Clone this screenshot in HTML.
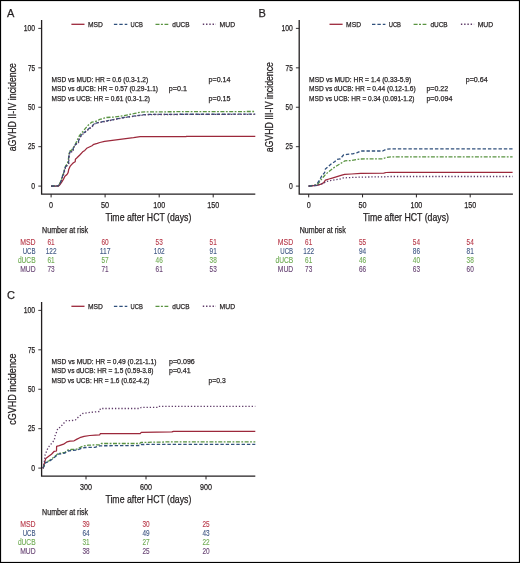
<!DOCTYPE html>
<html><head><meta charset="utf-8"><title>Figure</title>
<style>
html,body{margin:0;padding:0;background:#fff;}
body{width:520px;height:563px;overflow:hidden;}
svg{display:block;will-change:transform;filter:blur(0.3px);}
text{font-family:"Liberation Sans",sans-serif;}
</style></head>
<body>
<svg width="520" height="563" viewBox="0 0 520 563" font-family="Liberation Sans, sans-serif">
<rect x="0" y="0" width="520" height="563" fill="#fff"/>
<text x="7.00" y="17.00" font-size="11" fill="#231f20" stroke="#231f20" stroke-width="0.25">A</text>
<path d="M41.60 20.10 V194.10 H255.30" fill="none" stroke="#231f20" stroke-width="1.3"/>
<line x1="38.30" y1="186.10" x2="41.60" y2="186.10" stroke="#231f20" stroke-width="0.9"/>
<text x="35.10" y="188.90" font-size="8.5" fill="#231f20" stroke="#231f20" stroke-width="0.25" text-anchor="end" textLength="3.8" lengthAdjust="spacingAndGlyphs">0</text>
<line x1="38.30" y1="146.68" x2="41.60" y2="146.68" stroke="#231f20" stroke-width="0.9"/>
<text x="35.10" y="149.48" font-size="8.5" fill="#231f20" stroke="#231f20" stroke-width="0.25" text-anchor="end" textLength="7.1" lengthAdjust="spacingAndGlyphs">25</text>
<line x1="38.30" y1="107.25" x2="41.60" y2="107.25" stroke="#231f20" stroke-width="0.9"/>
<text x="35.10" y="110.05" font-size="8.5" fill="#231f20" stroke="#231f20" stroke-width="0.25" text-anchor="end" textLength="7.1" lengthAdjust="spacingAndGlyphs">50</text>
<line x1="38.30" y1="67.83" x2="41.60" y2="67.83" stroke="#231f20" stroke-width="0.9"/>
<text x="35.10" y="70.62" font-size="8.5" fill="#231f20" stroke="#231f20" stroke-width="0.25" text-anchor="end" textLength="7.1" lengthAdjust="spacingAndGlyphs">75</text>
<line x1="38.30" y1="28.40" x2="41.60" y2="28.40" stroke="#231f20" stroke-width="0.9"/>
<text x="35.10" y="31.20" font-size="8.5" fill="#231f20" stroke="#231f20" stroke-width="0.25" text-anchor="end" textLength="11.3" lengthAdjust="spacingAndGlyphs">100</text>
<line x1="51.10" y1="194.10" x2="51.10" y2="197.40" stroke="#231f20" stroke-width="1.0"/>
<text x="51.10" y="207.60" font-size="9.0" fill="#231f20" stroke="#231f20" stroke-width="0.25" text-anchor="middle" textLength="4.0" lengthAdjust="spacingAndGlyphs">0</text>
<line x1="105.10" y1="194.10" x2="105.10" y2="197.40" stroke="#231f20" stroke-width="1.0"/>
<text x="105.10" y="207.60" font-size="9.0" fill="#231f20" stroke="#231f20" stroke-width="0.25" text-anchor="middle" textLength="8.1" lengthAdjust="spacingAndGlyphs">50</text>
<line x1="159.20" y1="194.10" x2="159.20" y2="197.40" stroke="#231f20" stroke-width="1.0"/>
<text x="159.20" y="207.60" font-size="9.0" fill="#231f20" stroke="#231f20" stroke-width="0.25" text-anchor="middle" textLength="11.9" lengthAdjust="spacingAndGlyphs">100</text>
<line x1="213.20" y1="194.10" x2="213.20" y2="197.40" stroke="#231f20" stroke-width="1.0"/>
<text x="213.20" y="207.60" font-size="9.0" fill="#231f20" stroke="#231f20" stroke-width="0.25" text-anchor="middle" textLength="11.9" lengthAdjust="spacingAndGlyphs">150</text>
<text x="105.40" y="221.00" font-size="10.2" fill="#231f20" stroke="#231f20" stroke-width="0.25" textLength="86.0" lengthAdjust="spacingAndGlyphs">Time after HCT (days)</text>
<text transform="translate(15.60,107.20) rotate(-90)" font-size="10.3" fill="#231f20" stroke="#231f20" stroke-width="0.25" text-anchor="middle" textLength="88.3" lengthAdjust="spacingAndGlyphs">aGVHD II-IV incidence</text>
<line x1="71.40" y1="24.30" x2="84.50" y2="24.30" stroke="#9c283b" stroke-width="1.3"/>
<text x="88.00" y="26.80" font-size="7.9" fill="#231f20" stroke="#231f20" stroke-width="0.25" textLength="14.9" lengthAdjust="spacingAndGlyphs">MSD</text>
<line x1="113.90" y1="24.30" x2="127.30" y2="24.30" stroke="#30507c" stroke-width="1.3" stroke-dasharray="3.4 2"/>
<text x="130.60" y="26.80" font-size="7.9" fill="#231f20" stroke="#231f20" stroke-width="0.25" textLength="12.3" lengthAdjust="spacingAndGlyphs">UCB</text>
<line x1="155.50" y1="24.30" x2="168.30" y2="24.30" stroke="#5a9442" stroke-width="1.3" stroke-dasharray="4 1.4 2 1.6"/>
<text x="172.30" y="26.80" font-size="7.9" fill="#231f20" stroke="#231f20" stroke-width="0.25" textLength="17.3" lengthAdjust="spacingAndGlyphs">dUCB</text>
<line x1="202.80" y1="24.30" x2="216.00" y2="24.30" stroke="#5e3a68" stroke-width="1.4" stroke-dasharray="1.4 1.85"/>
<text x="219.60" y="26.80" font-size="7.9" fill="#231f20" stroke="#231f20" stroke-width="0.25" textLength="15.5" lengthAdjust="spacingAndGlyphs">MUD</text>
<text x="51.50" y="82.30" font-size="7.9" fill="#231f20" stroke="#231f20" stroke-width="0.25" textLength="96.7" lengthAdjust="spacingAndGlyphs">MSD vs MUD: HR = 0.6 (0.3-1.2)</text>
<text x="51.50" y="91.40" font-size="7.9" fill="#231f20" stroke="#231f20" stroke-width="0.25" textLength="106.5" lengthAdjust="spacingAndGlyphs">MSD vs dUCB: HR = 0.57 (0.29-1.1)</text>
<text x="51.50" y="100.50" font-size="7.9" fill="#231f20" stroke="#231f20" stroke-width="0.25" textLength="98.5" lengthAdjust="spacingAndGlyphs">MSD vs UCB: HR = 0.61 (0.3-1.2)</text>
<text x="208.50" y="82.30" font-size="7.9" fill="#231f20" stroke="#231f20" stroke-width="0.25" textLength="22" lengthAdjust="spacingAndGlyphs">p=0.14</text>
<text x="168.80" y="91.40" font-size="7.9" fill="#231f20" stroke="#231f20" stroke-width="0.25" textLength="18.1" lengthAdjust="spacingAndGlyphs">p=0.1</text>
<text x="208.50" y="100.50" font-size="7.9" fill="#231f20" stroke="#231f20" stroke-width="0.25" textLength="22" lengthAdjust="spacingAndGlyphs">p=0.15</text>
<polyline points="51.00,186.10 58.20,186.10 59.20,185.50 61.40,182.70 63.50,179.10 64.90,176.30 67.00,174.50 68.10,172.70 68.80,169.20 69.90,166.70 71.30,164.90 73.40,162.80 75.20,161.70 75.40,159.20 77.00,157.80 79.80,155.00 82.70,151.80 84.80,150.40 86.70,148.30 92.00,145.70 93.80,144.30 97.30,143.40 99.80,142.50 104.60,141.30 114.20,140.10 123.80,138.80 133.50,137.70 140.20,136.70 145.00,136.50 186.00,136.60 186.50,136.30 255.30,136.30" fill="none" stroke="#9c283b" stroke-width="1.25" stroke-linecap="butt" stroke-linejoin="round"/>
<polyline points="51.00,186.10 57.80,185.90 59.20,184.60 60.70,181.60 61.70,178.60 62.40,176.00 63.50,173.20 64.20,170.80 64.90,168.00 65.60,166.00 67.40,163.80 68.40,159.40 69.30,151.40 71.60,150.10 74.70,145.70 77.30,139.90 79.60,135.40 83.60,130.60 87.60,125.70 92.00,122.10 96.00,121.30 99.80,119.40 106.50,117.50 114.20,117.00 123.80,115.60 133.50,113.70 140.20,112.20 145.00,111.90 180.00,111.70 255.30,111.50" fill="none" stroke="#5a9442" stroke-width="1.3" stroke-dasharray="4 1.5 1.8 1.5" stroke-linecap="butt" stroke-linejoin="round"/>
<polyline points="51.00,186.10 57.80,185.90 59.20,184.80 60.70,182.00 61.70,179.10 62.40,176.60 63.50,173.80 64.20,171.30 64.90,168.50 65.60,166.70 67.40,164.90 68.50,163.50 68.60,160.70 68.80,157.10 69.50,152.80 70.20,151.80 72.90,151.40 73.30,147.90 75.60,144.30 78.20,142.60 79.10,139.00 81.30,135.00 84.00,132.80 86.70,130.60 89.30,128.30 92.00,126.60 93.80,123.90 96.90,122.80 104.60,121.30 114.20,119.40 123.80,117.50 133.50,116.10 141.20,115.10 145.00,114.60 153.80,114.30 255.30,114.20" fill="none" stroke="#30507c" stroke-width="1.3" stroke-dasharray="3.4 1.9" stroke-linecap="butt" stroke-linejoin="round"/>
<polyline points="51.20,186.30 58.00,186.10 59.40,185.00 60.90,182.20 61.90,179.30 62.60,176.80 63.70,174.00 64.40,171.50 65.10,168.70 65.80,166.90 67.60,165.10 68.70,163.70 68.80,160.90 69.00,157.30 69.70,153.00 70.40,152.00 73.10,151.60 73.50,148.10 75.80,144.50 78.40,142.80 79.30,139.20 81.50,135.20 84.20,133.00 86.90,130.80 89.50,128.50 92.20,126.80 94.00,124.10 97.10,123.00 104.80,121.50 114.40,119.60 124.00,117.70 133.70,116.30 141.40,115.30 145.20,114.80 154.00,114.50 255.50,114.40" fill="none" stroke="#5e3a68" stroke-width="1.3" stroke-dasharray="1.3 1.9" stroke-linecap="butt" stroke-linejoin="round"/>
<text x="42.10" y="233.10" font-size="8.5" fill="#231f20" stroke="#231f20" stroke-width="0.25" textLength="46" lengthAdjust="spacingAndGlyphs">Number at risk</text>
<text x="35.60" y="244.60" font-size="8.3" fill="#b83a4a" stroke="#b83a4a" stroke-width="0.12" text-anchor="end" textLength="15.4" lengthAdjust="spacingAndGlyphs">MSD</text>
<text x="51.10" y="244.60" font-size="8.3" fill="#b83a4a" stroke="#b83a4a" stroke-width="0.12" text-anchor="middle" textLength="7.2" lengthAdjust="spacingAndGlyphs">61</text>
<text x="105.10" y="244.60" font-size="8.3" fill="#b83a4a" stroke="#b83a4a" stroke-width="0.12" text-anchor="middle" textLength="7.2" lengthAdjust="spacingAndGlyphs">60</text>
<text x="159.20" y="244.60" font-size="8.3" fill="#b83a4a" stroke="#b83a4a" stroke-width="0.12" text-anchor="middle" textLength="7.2" lengthAdjust="spacingAndGlyphs">53</text>
<text x="213.20" y="244.60" font-size="8.3" fill="#b83a4a" stroke="#b83a4a" stroke-width="0.12" text-anchor="middle" textLength="7.2" lengthAdjust="spacingAndGlyphs">51</text>
<text x="35.60" y="253.60" font-size="8.3" fill="#3f5784" stroke="#3f5784" stroke-width="0.12" text-anchor="end" textLength="12.9" lengthAdjust="spacingAndGlyphs">UCB</text>
<text x="51.10" y="253.60" font-size="8.3" fill="#3f5784" stroke="#3f5784" stroke-width="0.12" text-anchor="middle" textLength="10.8" lengthAdjust="spacingAndGlyphs">122</text>
<text x="105.10" y="253.60" font-size="8.3" fill="#3f5784" stroke="#3f5784" stroke-width="0.12" text-anchor="middle" textLength="10.8" lengthAdjust="spacingAndGlyphs">117</text>
<text x="159.20" y="253.60" font-size="8.3" fill="#3f5784" stroke="#3f5784" stroke-width="0.12" text-anchor="middle" textLength="10.8" lengthAdjust="spacingAndGlyphs">102</text>
<text x="213.20" y="253.60" font-size="8.3" fill="#3f5784" stroke="#3f5784" stroke-width="0.12" text-anchor="middle" textLength="7.2" lengthAdjust="spacingAndGlyphs">91</text>
<text x="35.60" y="262.60" font-size="8.3" fill="#6eab52" stroke="#6eab52" stroke-width="0.12" text-anchor="end" textLength="17.7" lengthAdjust="spacingAndGlyphs">dUCB</text>
<text x="51.10" y="262.60" font-size="8.3" fill="#6eab52" stroke="#6eab52" stroke-width="0.12" text-anchor="middle" textLength="7.2" lengthAdjust="spacingAndGlyphs">61</text>
<text x="105.10" y="262.60" font-size="8.3" fill="#6eab52" stroke="#6eab52" stroke-width="0.12" text-anchor="middle" textLength="7.2" lengthAdjust="spacingAndGlyphs">57</text>
<text x="159.20" y="262.60" font-size="8.3" fill="#6eab52" stroke="#6eab52" stroke-width="0.12" text-anchor="middle" textLength="7.2" lengthAdjust="spacingAndGlyphs">46</text>
<text x="213.20" y="262.60" font-size="8.3" fill="#6eab52" stroke="#6eab52" stroke-width="0.12" text-anchor="middle" textLength="7.2" lengthAdjust="spacingAndGlyphs">38</text>
<text x="35.60" y="271.60" font-size="8.3" fill="#684474" stroke="#684474" stroke-width="0.12" text-anchor="end" textLength="15.4" lengthAdjust="spacingAndGlyphs">MUD</text>
<text x="51.10" y="271.60" font-size="8.3" fill="#684474" stroke="#684474" stroke-width="0.12" text-anchor="middle" textLength="7.2" lengthAdjust="spacingAndGlyphs">73</text>
<text x="105.10" y="271.60" font-size="8.3" fill="#684474" stroke="#684474" stroke-width="0.12" text-anchor="middle" textLength="7.2" lengthAdjust="spacingAndGlyphs">71</text>
<text x="159.20" y="271.60" font-size="8.3" fill="#684474" stroke="#684474" stroke-width="0.12" text-anchor="middle" textLength="7.2" lengthAdjust="spacingAndGlyphs">61</text>
<text x="213.20" y="271.60" font-size="8.3" fill="#684474" stroke="#684474" stroke-width="0.12" text-anchor="middle" textLength="7.2" lengthAdjust="spacingAndGlyphs">53</text>
<text x="258.60" y="17.00" font-size="11" fill="#231f20" stroke="#231f20" stroke-width="0.25">B</text>
<path d="M299.20 20.10 V194.10 H512.90" fill="none" stroke="#231f20" stroke-width="1.3"/>
<line x1="295.90" y1="186.10" x2="299.20" y2="186.10" stroke="#231f20" stroke-width="0.9"/>
<text x="292.70" y="188.90" font-size="8.5" fill="#231f20" stroke="#231f20" stroke-width="0.25" text-anchor="end" textLength="3.8" lengthAdjust="spacingAndGlyphs">0</text>
<line x1="295.90" y1="146.68" x2="299.20" y2="146.68" stroke="#231f20" stroke-width="0.9"/>
<text x="292.70" y="149.48" font-size="8.5" fill="#231f20" stroke="#231f20" stroke-width="0.25" text-anchor="end" textLength="7.1" lengthAdjust="spacingAndGlyphs">25</text>
<line x1="295.90" y1="107.25" x2="299.20" y2="107.25" stroke="#231f20" stroke-width="0.9"/>
<text x="292.70" y="110.05" font-size="8.5" fill="#231f20" stroke="#231f20" stroke-width="0.25" text-anchor="end" textLength="7.1" lengthAdjust="spacingAndGlyphs">50</text>
<line x1="295.90" y1="67.83" x2="299.20" y2="67.83" stroke="#231f20" stroke-width="0.9"/>
<text x="292.70" y="70.62" font-size="8.5" fill="#231f20" stroke="#231f20" stroke-width="0.25" text-anchor="end" textLength="7.1" lengthAdjust="spacingAndGlyphs">75</text>
<line x1="295.90" y1="28.40" x2="299.20" y2="28.40" stroke="#231f20" stroke-width="0.9"/>
<text x="292.70" y="31.20" font-size="8.5" fill="#231f20" stroke="#231f20" stroke-width="0.25" text-anchor="end" textLength="11.3" lengthAdjust="spacingAndGlyphs">100</text>
<line x1="308.70" y1="194.10" x2="308.70" y2="197.40" stroke="#231f20" stroke-width="1.0"/>
<text x="308.70" y="207.60" font-size="9.0" fill="#231f20" stroke="#231f20" stroke-width="0.25" text-anchor="middle" textLength="4.0" lengthAdjust="spacingAndGlyphs">0</text>
<line x1="362.55" y1="194.10" x2="362.55" y2="197.40" stroke="#231f20" stroke-width="1.0"/>
<text x="362.55" y="207.60" font-size="9.0" fill="#231f20" stroke="#231f20" stroke-width="0.25" text-anchor="middle" textLength="8.1" lengthAdjust="spacingAndGlyphs">50</text>
<line x1="416.40" y1="194.10" x2="416.40" y2="197.40" stroke="#231f20" stroke-width="1.0"/>
<text x="416.40" y="207.60" font-size="9.0" fill="#231f20" stroke="#231f20" stroke-width="0.25" text-anchor="middle" textLength="11.9" lengthAdjust="spacingAndGlyphs">100</text>
<line x1="470.20" y1="194.10" x2="470.20" y2="197.40" stroke="#231f20" stroke-width="1.0"/>
<text x="470.20" y="207.60" font-size="9.0" fill="#231f20" stroke="#231f20" stroke-width="0.25" text-anchor="middle" textLength="11.9" lengthAdjust="spacingAndGlyphs">150</text>
<text x="363.00" y="221.00" font-size="10.2" fill="#231f20" stroke="#231f20" stroke-width="0.25" textLength="86.0" lengthAdjust="spacingAndGlyphs">Time after HCT (days)</text>
<text transform="translate(273.20,107.20) rotate(-90)" font-size="10.3" fill="#231f20" stroke="#231f20" stroke-width="0.25" text-anchor="middle" textLength="90.3" lengthAdjust="spacingAndGlyphs">aGVHD III-IV incidence</text>
<line x1="329.50" y1="24.30" x2="342.60" y2="24.30" stroke="#9c283b" stroke-width="1.3"/>
<text x="346.10" y="26.80" font-size="7.9" fill="#231f20" stroke="#231f20" stroke-width="0.25" textLength="14.9" lengthAdjust="spacingAndGlyphs">MSD</text>
<line x1="372.00" y1="24.30" x2="385.40" y2="24.30" stroke="#30507c" stroke-width="1.3" stroke-dasharray="3.4 2"/>
<text x="388.70" y="26.80" font-size="7.9" fill="#231f20" stroke="#231f20" stroke-width="0.25" textLength="12.3" lengthAdjust="spacingAndGlyphs">UCB</text>
<line x1="413.60" y1="24.30" x2="426.40" y2="24.30" stroke="#5a9442" stroke-width="1.3" stroke-dasharray="4 1.4 2 1.6"/>
<text x="430.40" y="26.80" font-size="7.9" fill="#231f20" stroke="#231f20" stroke-width="0.25" textLength="17.3" lengthAdjust="spacingAndGlyphs">dUCB</text>
<line x1="460.90" y1="24.30" x2="474.10" y2="24.30" stroke="#5e3a68" stroke-width="1.4" stroke-dasharray="1.4 1.85"/>
<text x="477.70" y="26.80" font-size="7.9" fill="#231f20" stroke="#231f20" stroke-width="0.25" textLength="15.5" lengthAdjust="spacingAndGlyphs">MUD</text>
<text x="309.10" y="82.30" font-size="7.9" fill="#231f20" stroke="#231f20" stroke-width="0.25" textLength="102.2" lengthAdjust="spacingAndGlyphs">MSD vs MUD: HR = 1.4 (0.33-5.9)</text>
<text x="309.10" y="91.40" font-size="7.9" fill="#231f20" stroke="#231f20" stroke-width="0.25" textLength="106.5" lengthAdjust="spacingAndGlyphs">MSD vs dUCB: HR = 0.44 (0.12-1.6)</text>
<text x="309.10" y="100.50" font-size="7.9" fill="#231f20" stroke="#231f20" stroke-width="0.25" textLength="105.4" lengthAdjust="spacingAndGlyphs">MSD vs UCB: HR = 0.34 (0.091-1.2)</text>
<text x="465.70" y="82.30" font-size="7.9" fill="#231f20" stroke="#231f20" stroke-width="0.25" textLength="22" lengthAdjust="spacingAndGlyphs">p=0.64</text>
<text x="426.40" y="91.40" font-size="7.9" fill="#231f20" stroke="#231f20" stroke-width="0.25" textLength="21.7" lengthAdjust="spacingAndGlyphs">p=0.22</text>
<text x="426.40" y="100.50" font-size="7.9" fill="#231f20" stroke="#231f20" stroke-width="0.25" textLength="26" lengthAdjust="spacingAndGlyphs">p=0.094</text>
<polyline points="308.60,186.20 317.00,185.40 321.00,184.20 323.80,182.60 325.40,180.20 329.00,179.00 333.00,177.80 337.00,176.60 341.00,175.40 344.60,174.40 351.50,174.00 360.80,173.40 383.80,173.20 386.10,172.50 390.80,172.30 512.60,172.30" fill="none" stroke="#9c283b" stroke-width="1.25" stroke-linecap="butt" stroke-linejoin="round"/>
<polyline points="308.60,186.20 317.00,184.60 319.00,182.60 321.00,179.80 323.40,177.00 325.40,174.60 329.00,171.40 332.20,169.00 335.40,166.60 339.40,164.20 343.40,161.80 345.00,160.80 351.50,160.50 359.60,159.00 382.70,158.80 386.10,157.50 390.80,156.90 512.60,156.90" fill="none" stroke="#5a9442" stroke-width="1.3" stroke-dasharray="4 1.5 1.8 1.5" stroke-linecap="butt" stroke-linejoin="round"/>
<polyline points="308.60,186.20 317.00,185.40 317.80,182.60 319.80,179.80 321.80,175.80 324.60,172.60 325.40,169.00 328.20,166.60 331.40,163.80 334.60,161.80 337.00,159.40 340.20,158.80 341.80,157.00 343.50,155.00 346.90,154.40 352.70,153.80 357.30,152.70 360.80,151.00 382.70,151.00 386.10,149.20 390.80,148.90 512.60,148.90" fill="none" stroke="#30507c" stroke-width="1.3" stroke-dasharray="3.4 1.9" stroke-linecap="butt" stroke-linejoin="round"/>
<polyline points="308.60,186.20 319.40,184.60 323.40,183.40 326.60,181.40 330.60,180.60 335.40,179.80 340.20,179.00 343.50,177.90 351.50,177.50 360.80,177.10 383.80,176.80 390.80,176.50 512.60,176.50" fill="none" stroke="#5e3a68" stroke-width="1.3" stroke-dasharray="1.3 1.9" stroke-linecap="butt" stroke-linejoin="round"/>
<text x="299.70" y="233.10" font-size="8.5" fill="#231f20" stroke="#231f20" stroke-width="0.25" textLength="46" lengthAdjust="spacingAndGlyphs">Number at risk</text>
<text x="293.20" y="244.60" font-size="8.3" fill="#b83a4a" stroke="#b83a4a" stroke-width="0.12" text-anchor="end" textLength="15.4" lengthAdjust="spacingAndGlyphs">MSD</text>
<text x="308.70" y="244.60" font-size="8.3" fill="#b83a4a" stroke="#b83a4a" stroke-width="0.12" text-anchor="middle" textLength="7.2" lengthAdjust="spacingAndGlyphs">61</text>
<text x="362.55" y="244.60" font-size="8.3" fill="#b83a4a" stroke="#b83a4a" stroke-width="0.12" text-anchor="middle" textLength="7.2" lengthAdjust="spacingAndGlyphs">55</text>
<text x="416.40" y="244.60" font-size="8.3" fill="#b83a4a" stroke="#b83a4a" stroke-width="0.12" text-anchor="middle" textLength="7.2" lengthAdjust="spacingAndGlyphs">54</text>
<text x="470.20" y="244.60" font-size="8.3" fill="#b83a4a" stroke="#b83a4a" stroke-width="0.12" text-anchor="middle" textLength="7.2" lengthAdjust="spacingAndGlyphs">54</text>
<text x="293.20" y="253.60" font-size="8.3" fill="#3f5784" stroke="#3f5784" stroke-width="0.12" text-anchor="end" textLength="12.9" lengthAdjust="spacingAndGlyphs">UCB</text>
<text x="308.70" y="253.60" font-size="8.3" fill="#3f5784" stroke="#3f5784" stroke-width="0.12" text-anchor="middle" textLength="10.8" lengthAdjust="spacingAndGlyphs">122</text>
<text x="362.55" y="253.60" font-size="8.3" fill="#3f5784" stroke="#3f5784" stroke-width="0.12" text-anchor="middle" textLength="7.2" lengthAdjust="spacingAndGlyphs">94</text>
<text x="416.40" y="253.60" font-size="8.3" fill="#3f5784" stroke="#3f5784" stroke-width="0.12" text-anchor="middle" textLength="7.2" lengthAdjust="spacingAndGlyphs">86</text>
<text x="470.20" y="253.60" font-size="8.3" fill="#3f5784" stroke="#3f5784" stroke-width="0.12" text-anchor="middle" textLength="7.2" lengthAdjust="spacingAndGlyphs">81</text>
<text x="293.20" y="262.60" font-size="8.3" fill="#6eab52" stroke="#6eab52" stroke-width="0.12" text-anchor="end" textLength="17.7" lengthAdjust="spacingAndGlyphs">dUCB</text>
<text x="308.70" y="262.60" font-size="8.3" fill="#6eab52" stroke="#6eab52" stroke-width="0.12" text-anchor="middle" textLength="7.2" lengthAdjust="spacingAndGlyphs">61</text>
<text x="362.55" y="262.60" font-size="8.3" fill="#6eab52" stroke="#6eab52" stroke-width="0.12" text-anchor="middle" textLength="7.2" lengthAdjust="spacingAndGlyphs">46</text>
<text x="416.40" y="262.60" font-size="8.3" fill="#6eab52" stroke="#6eab52" stroke-width="0.12" text-anchor="middle" textLength="7.2" lengthAdjust="spacingAndGlyphs">40</text>
<text x="470.20" y="262.60" font-size="8.3" fill="#6eab52" stroke="#6eab52" stroke-width="0.12" text-anchor="middle" textLength="7.2" lengthAdjust="spacingAndGlyphs">38</text>
<text x="293.20" y="271.60" font-size="8.3" fill="#684474" stroke="#684474" stroke-width="0.12" text-anchor="end" textLength="15.4" lengthAdjust="spacingAndGlyphs">MUD</text>
<text x="308.70" y="271.60" font-size="8.3" fill="#684474" stroke="#684474" stroke-width="0.12" text-anchor="middle" textLength="7.2" lengthAdjust="spacingAndGlyphs">73</text>
<text x="362.55" y="271.60" font-size="8.3" fill="#684474" stroke="#684474" stroke-width="0.12" text-anchor="middle" textLength="7.2" lengthAdjust="spacingAndGlyphs">66</text>
<text x="416.40" y="271.60" font-size="8.3" fill="#684474" stroke="#684474" stroke-width="0.12" text-anchor="middle" textLength="7.2" lengthAdjust="spacingAndGlyphs">63</text>
<text x="470.20" y="271.60" font-size="8.3" fill="#684474" stroke="#684474" stroke-width="0.12" text-anchor="middle" textLength="7.2" lengthAdjust="spacingAndGlyphs">60</text>
<text x="7.00" y="299.00" font-size="11" fill="#231f20" stroke="#231f20" stroke-width="0.25">C</text>
<path d="M41.60 302.10 V476.10 H255.30" fill="none" stroke="#231f20" stroke-width="1.3"/>
<line x1="38.30" y1="468.10" x2="41.60" y2="468.10" stroke="#231f20" stroke-width="0.9"/>
<text x="35.10" y="470.90" font-size="8.5" fill="#231f20" stroke="#231f20" stroke-width="0.25" text-anchor="end" textLength="3.8" lengthAdjust="spacingAndGlyphs">0</text>
<line x1="38.30" y1="428.68" x2="41.60" y2="428.68" stroke="#231f20" stroke-width="0.9"/>
<text x="35.10" y="431.48" font-size="8.5" fill="#231f20" stroke="#231f20" stroke-width="0.25" text-anchor="end" textLength="7.1" lengthAdjust="spacingAndGlyphs">25</text>
<line x1="38.30" y1="389.25" x2="41.60" y2="389.25" stroke="#231f20" stroke-width="0.9"/>
<text x="35.10" y="392.05" font-size="8.5" fill="#231f20" stroke="#231f20" stroke-width="0.25" text-anchor="end" textLength="7.1" lengthAdjust="spacingAndGlyphs">50</text>
<line x1="38.30" y1="349.82" x2="41.60" y2="349.82" stroke="#231f20" stroke-width="0.9"/>
<text x="35.10" y="352.62" font-size="8.5" fill="#231f20" stroke="#231f20" stroke-width="0.25" text-anchor="end" textLength="7.1" lengthAdjust="spacingAndGlyphs">75</text>
<line x1="38.30" y1="310.40" x2="41.60" y2="310.40" stroke="#231f20" stroke-width="0.9"/>
<text x="35.10" y="313.20" font-size="8.5" fill="#231f20" stroke="#231f20" stroke-width="0.25" text-anchor="end" textLength="11.3" lengthAdjust="spacingAndGlyphs">100</text>
<line x1="86.00" y1="476.10" x2="86.00" y2="479.40" stroke="#231f20" stroke-width="1.0"/>
<text x="86.00" y="489.60" font-size="9.0" fill="#231f20" stroke="#231f20" stroke-width="0.25" text-anchor="middle" textLength="11.9" lengthAdjust="spacingAndGlyphs">300</text>
<line x1="146.00" y1="476.10" x2="146.00" y2="479.40" stroke="#231f20" stroke-width="1.0"/>
<text x="146.00" y="489.60" font-size="9.0" fill="#231f20" stroke="#231f20" stroke-width="0.25" text-anchor="middle" textLength="11.9" lengthAdjust="spacingAndGlyphs">600</text>
<line x1="206.00" y1="476.10" x2="206.00" y2="479.40" stroke="#231f20" stroke-width="1.0"/>
<text x="206.00" y="489.60" font-size="9.0" fill="#231f20" stroke="#231f20" stroke-width="0.25" text-anchor="middle" textLength="11.9" lengthAdjust="spacingAndGlyphs">900</text>
<text x="105.40" y="503.00" font-size="10.2" fill="#231f20" stroke="#231f20" stroke-width="0.25" textLength="86.0" lengthAdjust="spacingAndGlyphs">Time after HCT (days)</text>
<text transform="translate(15.60,389.20) rotate(-90)" font-size="10.3" fill="#231f20" stroke="#231f20" stroke-width="0.25" text-anchor="middle" textLength="71.3" lengthAdjust="spacingAndGlyphs">cGVHD incidence</text>
<line x1="71.40" y1="306.30" x2="84.50" y2="306.30" stroke="#9c283b" stroke-width="1.3"/>
<text x="88.00" y="308.80" font-size="7.9" fill="#231f20" stroke="#231f20" stroke-width="0.25" textLength="14.9" lengthAdjust="spacingAndGlyphs">MSD</text>
<line x1="113.90" y1="306.30" x2="127.30" y2="306.30" stroke="#30507c" stroke-width="1.3" stroke-dasharray="3.4 2"/>
<text x="130.60" y="308.80" font-size="7.9" fill="#231f20" stroke="#231f20" stroke-width="0.25" textLength="12.3" lengthAdjust="spacingAndGlyphs">UCB</text>
<line x1="155.50" y1="306.30" x2="168.30" y2="306.30" stroke="#5a9442" stroke-width="1.3" stroke-dasharray="4 1.4 2 1.6"/>
<text x="172.30" y="308.80" font-size="7.9" fill="#231f20" stroke="#231f20" stroke-width="0.25" textLength="17.3" lengthAdjust="spacingAndGlyphs">dUCB</text>
<line x1="202.80" y1="306.30" x2="216.00" y2="306.30" stroke="#5e3a68" stroke-width="1.4" stroke-dasharray="1.4 1.85"/>
<text x="219.60" y="308.80" font-size="7.9" fill="#231f20" stroke="#231f20" stroke-width="0.25" textLength="15.5" lengthAdjust="spacingAndGlyphs">MUD</text>
<text x="51.50" y="364.30" font-size="7.9" fill="#231f20" stroke="#231f20" stroke-width="0.25" textLength="105" lengthAdjust="spacingAndGlyphs">MSD vs MUD: HR = 0.49 (0.21-1.1)</text>
<text x="51.50" y="373.40" font-size="7.9" fill="#231f20" stroke="#231f20" stroke-width="0.25" textLength="102" lengthAdjust="spacingAndGlyphs">MSD vs dUCB: HR = 1.5 (0.59-3.8)</text>
<text x="51.50" y="382.50" font-size="7.9" fill="#231f20" stroke="#231f20" stroke-width="0.25" textLength="98" lengthAdjust="spacingAndGlyphs">MSD vs UCB: HR = 1.6 (0.62-4.2)</text>
<text x="169.00" y="364.30" font-size="7.9" fill="#231f20" stroke="#231f20" stroke-width="0.25" textLength="25.8" lengthAdjust="spacingAndGlyphs">p=0.096</text>
<text x="169.00" y="373.40" font-size="7.9" fill="#231f20" stroke="#231f20" stroke-width="0.25" textLength="21.6" lengthAdjust="spacingAndGlyphs">p=0.41</text>
<text x="208.60" y="382.50" font-size="7.9" fill="#231f20" stroke="#231f20" stroke-width="0.25" textLength="17.1" lengthAdjust="spacingAndGlyphs">p=0.3</text>
<polyline points="43.00,468.30 45.10,460.60 45.80,458.50 48.70,456.30 51.50,454.20 54.30,451.30 56.50,451.00 56.60,446.40 59.30,445.70 63.60,444.20 67.10,441.80 69.90,441.20 74.10,440.80 77.00,439.10 79.80,437.70 84.10,436.30 89.80,435.50 95.50,435.10 99.60,435.00 100.40,433.50 140.40,433.50 141.20,432.40 171.90,431.90 173.50,431.30 255.30,431.30" fill="none" stroke="#9c283b" stroke-width="1.25" stroke-linecap="butt" stroke-linejoin="round"/>
<polyline points="43.00,468.30 44.80,464.10 45.80,462.00 48.70,461.00 52.20,458.50 55.80,455.60 57.90,453.50 61.50,453.20 65.00,452.30 67.90,450.00 71.30,449.50 77.00,449.10 82.70,446.20 88.40,445.10 99.70,444.80 101.20,443.50 139.60,443.50 141.20,442.40 175.00,441.80 255.30,441.80" fill="none" stroke="#5a9442" stroke-width="1.3" stroke-dasharray="4 1.5 1.8 1.5" stroke-linecap="butt" stroke-linejoin="round"/>
<polyline points="43.00,468.30 44.80,464.60 45.80,462.60 48.70,461.60 52.20,459.20 55.80,456.30 57.90,454.20 61.50,453.90 65.00,453.00 67.90,451.00 71.30,450.50 77.00,450.00 81.30,448.30 85.50,447.50 95.00,447.30 99.60,445.80 139.60,445.50 141.20,444.50 175.00,444.30 255.30,444.30" fill="none" stroke="#30507c" stroke-width="1.3" stroke-dasharray="3.4 1.9" stroke-linecap="butt" stroke-linejoin="round"/>
<polyline points="43.00,468.30 44.40,461.30 45.10,454.90 46.50,451.30 48.00,447.80 50.10,445.00 52.20,442.80 54.30,440.00 55.10,435.70 57.10,430.60 57.80,428.40 60.60,427.00 62.80,424.20 66.30,420.60 71.30,420.60 75.60,419.90 78.40,417.00 82.70,413.50 86.90,412.80 94.00,412.00 99.60,411.50 100.40,408.50 140.00,408.50 141.20,407.40 157.50,407.30 158.10,406.40 255.30,406.30" fill="none" stroke="#5e3a68" stroke-width="1.3" stroke-dasharray="1.3 1.9" stroke-linecap="butt" stroke-linejoin="round"/>
<text x="42.10" y="515.10" font-size="8.5" fill="#231f20" stroke="#231f20" stroke-width="0.25" textLength="46" lengthAdjust="spacingAndGlyphs">Number at risk</text>
<text x="35.60" y="526.60" font-size="8.3" fill="#b83a4a" stroke="#b83a4a" stroke-width="0.12" text-anchor="end" textLength="15.4" lengthAdjust="spacingAndGlyphs">MSD</text>
<text x="86.00" y="526.60" font-size="8.3" fill="#b83a4a" stroke="#b83a4a" stroke-width="0.12" text-anchor="middle" textLength="7.2" lengthAdjust="spacingAndGlyphs">39</text>
<text x="146.00" y="526.60" font-size="8.3" fill="#b83a4a" stroke="#b83a4a" stroke-width="0.12" text-anchor="middle" textLength="7.2" lengthAdjust="spacingAndGlyphs">30</text>
<text x="206.00" y="526.60" font-size="8.3" fill="#b83a4a" stroke="#b83a4a" stroke-width="0.12" text-anchor="middle" textLength="7.2" lengthAdjust="spacingAndGlyphs">25</text>
<text x="35.60" y="535.60" font-size="8.3" fill="#3f5784" stroke="#3f5784" stroke-width="0.12" text-anchor="end" textLength="12.9" lengthAdjust="spacingAndGlyphs">UCB</text>
<text x="86.00" y="535.60" font-size="8.3" fill="#3f5784" stroke="#3f5784" stroke-width="0.12" text-anchor="middle" textLength="7.2" lengthAdjust="spacingAndGlyphs">64</text>
<text x="146.00" y="535.60" font-size="8.3" fill="#3f5784" stroke="#3f5784" stroke-width="0.12" text-anchor="middle" textLength="7.2" lengthAdjust="spacingAndGlyphs">49</text>
<text x="206.00" y="535.60" font-size="8.3" fill="#3f5784" stroke="#3f5784" stroke-width="0.12" text-anchor="middle" textLength="7.2" lengthAdjust="spacingAndGlyphs">43</text>
<text x="35.60" y="544.60" font-size="8.3" fill="#6eab52" stroke="#6eab52" stroke-width="0.12" text-anchor="end" textLength="17.7" lengthAdjust="spacingAndGlyphs">dUCB</text>
<text x="86.00" y="544.60" font-size="8.3" fill="#6eab52" stroke="#6eab52" stroke-width="0.12" text-anchor="middle" textLength="7.2" lengthAdjust="spacingAndGlyphs">31</text>
<text x="146.00" y="544.60" font-size="8.3" fill="#6eab52" stroke="#6eab52" stroke-width="0.12" text-anchor="middle" textLength="7.2" lengthAdjust="spacingAndGlyphs">27</text>
<text x="206.00" y="544.60" font-size="8.3" fill="#6eab52" stroke="#6eab52" stroke-width="0.12" text-anchor="middle" textLength="7.2" lengthAdjust="spacingAndGlyphs">22</text>
<text x="35.60" y="553.60" font-size="8.3" fill="#684474" stroke="#684474" stroke-width="0.12" text-anchor="end" textLength="15.4" lengthAdjust="spacingAndGlyphs">MUD</text>
<text x="86.00" y="553.60" font-size="8.3" fill="#684474" stroke="#684474" stroke-width="0.12" text-anchor="middle" textLength="7.2" lengthAdjust="spacingAndGlyphs">38</text>
<text x="146.00" y="553.60" font-size="8.3" fill="#684474" stroke="#684474" stroke-width="0.12" text-anchor="middle" textLength="7.2" lengthAdjust="spacingAndGlyphs">25</text>
<text x="206.00" y="553.60" font-size="8.3" fill="#684474" stroke="#684474" stroke-width="0.12" text-anchor="middle" textLength="7.2" lengthAdjust="spacingAndGlyphs">20</text>
<rect x="0.5" y="0.5" width="519" height="562" fill="none" stroke="#000" stroke-width="1.2"/>
</svg>
</body></html>
